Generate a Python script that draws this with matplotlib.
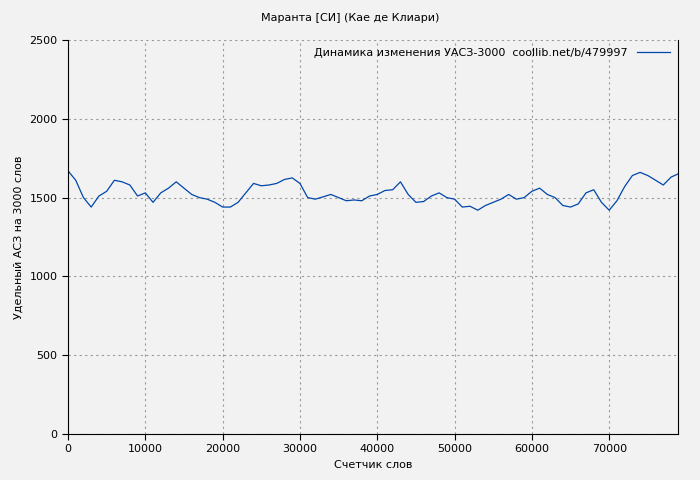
import matplotlib
matplotlib.use("Agg")
import matplotlib.pyplot as plt

words = [i*1000 for i in range(79)] + [78900]
values = [1670,1610,1500,1440,1510,1540,1610,1600,1580,1510,1530,1470,1530,1560,1600,1560,1520,1500,1490,1470,
          1440,1440,1470,1530,1590,1575,1580,1590,1615,1625,1590,1500,1490,1505,1520,1500,1480,1485,1480,1510,
          1520,1545,1550,1600,1520,1470,1475,1510,1530,1500,1490,1440,1445,1420,1450,1470,1490,1520,1490,1500,
          1540,1560,1520,1500,1450,1440,1460,1530,1550,1470,1420,1480,1570,1640,1660,1640,1610,1580,1630,1650]

fig = plt.figure(figsize=(7,4.8), dpi=100, facecolor='#f2f2f2')
ax = fig.add_axes([68/700, 1-434/480, 610/700, 394/480])
ax.set_facecolor('#f2f2f2')
ax.plot(words, values, color='#0047ab', lw=0.9, label='Динамика изменения УАСЗ-3000  coollib.net/b/479997')
ax.set_xlim(0, 78900)
ax.set_ylim(0, 2500)
ax.set_xticks(range(0, 78000, 10000))
ax.set_yticks(range(0, 2501, 500))
ax.grid(True, color='#999999', ls=(0,(2,3)), lw=0.8)
ax.spines['top'].set_visible(False)
ax.tick_params(labelsize=8, direction='out', length=4)
fs = dict(fontsize=8)
ax.set_xlabel('Счетчик слов', **fs)
ax.set_ylabel('Удельный АСЗ на 3000 слов', **fs)
fig.text(0.5, 1-18/480, 'Маранта [СИ] (Кае де Клиари)', ha='center', va='center', fontsize=8)
ax.legend(loc='upper right', fontsize=8, frameon=False, markerfirst=False, handlelength=3, borderaxespad=0.3)
fig.savefig('out.png', dpi=100, facecolor=fig.get_facecolor())
